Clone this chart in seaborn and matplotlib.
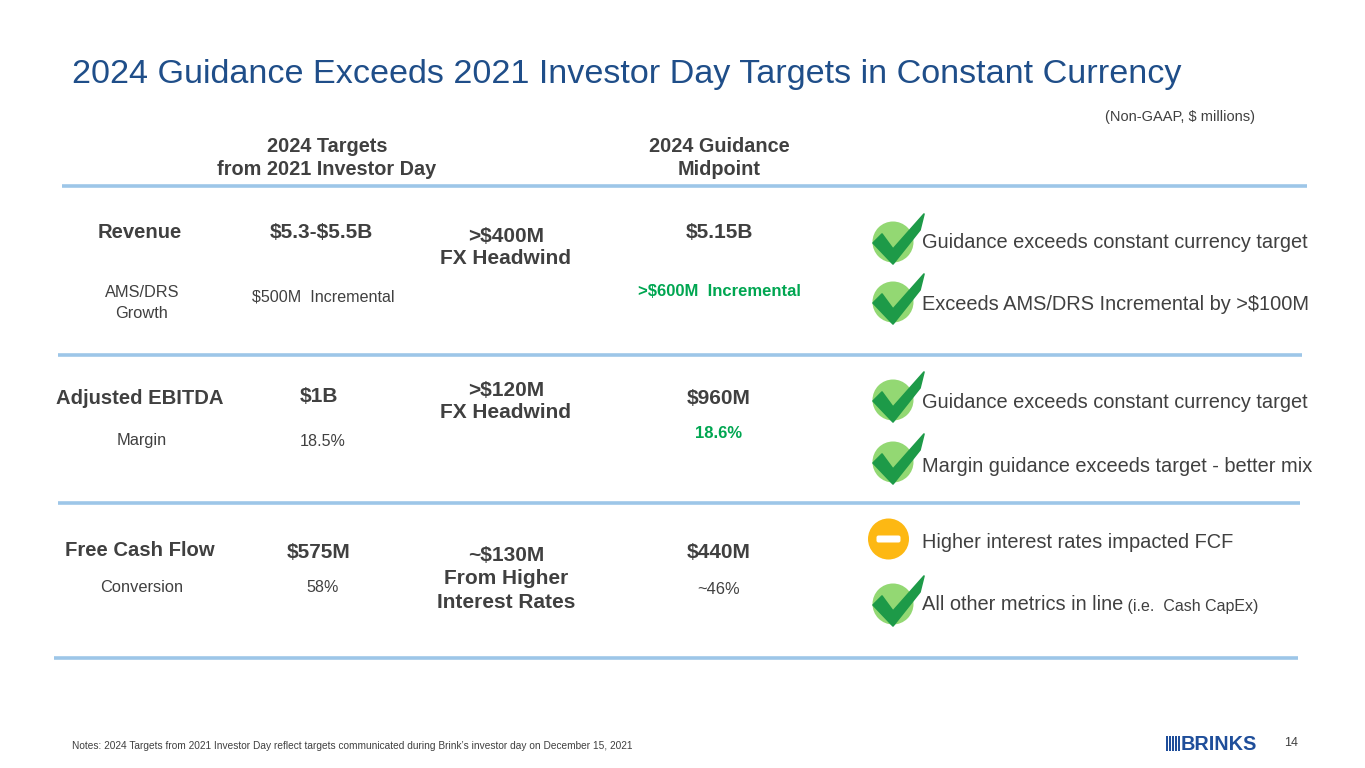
import matplotlib
matplotlib.use("Agg")
import matplotlib.pyplot as plt
import seaborn as sns
import pandas as pd
from matplotlib.patches import Polygon, Circle, FancyBboxPatch, Rectangle

# ---------------- data ----------------
title = "2024 Guidance Exceeds 2021 Investor Day Targets in Constant Currency"
units_note = "(Non-GAAP, $ millions)"
col_headers = ["2024 Targets\nfrom 2021 Investor Day", "2024 Guidance\nMidpoint"]

metrics = ["Revenue", "Adjusted EBITDA", "Free Cash Flow"]
sub_metrics = ["AMS/DRS\nGrowth", "Margin", "Conversion"]
targets = ["$5.3-$5.5B", "$1B", "$575M"]
target_subs = ["$500M  Incremental", "18.5%", "58%"]
impacts = [">$400M\nFX Headwind", ">$120M\nFX Headwind", "~$130M\nFrom Higher\nInterest Rates"]
guidance = ["$5.15B", "$960M", "$440M"]
guidance_subs = [">$600M  Incremental", "18.6%", "~46%"]
guidance_sub_green = [True, True, False]

comments = [
    "Guidance exceeds constant currency target",
    "Exceeds AMS/DRS Incremental by >$100M",
    "Guidance exceeds constant currency target",
    "Margin guidance exceeds target - better mix",
    "Higher interest rates impacted FCF",
    "All other metrics in line",
]
comment_suffix = ["", "", "", "", "", " (i.e.  Cash CapEx)"]
statuses = ["check", "check", "check", "check", "minus", "check"]

notes = "Notes: 2024 Targets from 2021 Investor Day reflect targets communicated during Brink\u2019s investor day on December 15, 2021"
page_no = "14"
logo_text = "BRINKS"

# ---------------- style ----------------
sns.set_theme(style="white")
plt.rcParams["font.family"] = ["Liberation Sans", "DejaVu Sans"]

DARK = "#404040"
BLUE = "#1F4E89"
GREEN_TXT = "#00A651"
LINE = "#9DC6E8"
CHECK_BG = "#93D873"
CHECK_FG = "#1D9A48"
MINUS_BG = "#FDB813"

fig = plt.figure(figsize=(13.65, 7.68), dpi=100)
ax = fig.add_axes([0, 0, 1, 1])
ax.set_xlim(0, 1365)
ax.set_ylim(768, 0)
ax.axis("off")


def txt(x, y, s, **kw):
    kw.setdefault("color", DARK)
    kw.setdefault("va", "center")
    return ax.text(x, y, s, parse_math=False, **kw)


# title
txt(72, 75, title, fontsize=24.6, color=BLUE, ha="left")
txt(1255, 117, units_note, fontsize=10.5, ha="right")

# column headers
txt(327, 158, col_headers[0], fontsize=14.3, fontweight="bold", ha="center", linespacing=1.25)
txt(719, 158, col_headers[1], fontsize=14.3, fontweight="bold", ha="center", linespacing=1.25)

# separator lines
for (x0, x1, y) in [(62, 1307, 186), (58, 1302, 355), (58, 1300, 503), (54, 1298, 658)]:
    ax.plot([x0, x1], [y, y], color=LINE, lw=2.6, solid_capstyle="butt")

# rows
row_main_y = [232, 399, 551]
row_sub_y = [303, 440, 588]
target_y = [232, 396, 552]
target_sub_y = [297, 442, 588]
impact_y = [248, 402, 579]
impact_ls = [1.2, 1.2, 1.3]
guid_y = [232, 398, 552]
guid_sub_y = [292, 434, 590]
target_x = [321, 319, 319]
for i in range(3):
    txt(140, row_main_y[i], metrics[i], fontsize=14.6, fontweight="bold", ha="center")
    txt(142, row_sub_y[i], sub_metrics[i], fontsize=11.8, ha="center", linespacing=1.45)
    txt(target_x[i], target_y[i], targets[i], fontsize=15, fontweight="bold", ha="center")
    txt(323, target_sub_y[i], target_subs[i], fontsize=11.6, ha="center")
    txt(506, impact_y[i], impacts[i], fontsize=15, fontweight="bold", ha="center",
        linespacing=impact_ls[i])
    txt(719, guid_y[i], guidance[i], fontsize=15, fontweight="bold", ha="center")
    if guidance_sub_green[i]:
        txt(719, guid_sub_y[i], guidance_subs[i], fontsize=12, fontweight="bold",
            color=GREEN_TXT, ha="center")
    else:
        txt(719, guid_sub_y[i], guidance_subs[i], fontsize=11.8, ha="center")

# status icons and comments
icon_y = [242, 302, 400, 462, 539, 604]
icon_x = 893
df_icons = pd.DataFrame({"x": [icon_x] * len(statuses), "y": icon_y, "status": statuses})
for _, r in df_icons.iterrows():
    cx, cy = r["x"], r["y"]
    if r["status"] == "check":
        ax.add_patch(Circle((cx, cy), 20.5, facecolor=CHECK_BG, edgecolor="none", zorder=3))
        pts = [(-20, 1), (-11, -8), (0, 7), (31, -28), (27, -12), (0, 22)]
        ax.add_patch(Polygon([(cx + px, cy + py) for px, py in pts], closed=True,
                             facecolor=CHECK_FG, edgecolor=CHECK_FG, lw=1.2,
                             joinstyle="round", zorder=4))
    else:
        mx = cx - 4.5
        ax.add_patch(Circle((mx, cy), 20.5, facecolor=MINUS_BG, edgecolor="none", zorder=3))
        ax.add_patch(FancyBboxPatch((mx - 12, cy - 3.5), 24, 7,
                                    boxstyle="round,pad=0,rounding_size=2",
                                    facecolor="white", edgecolor="none", zorder=4))

comment_y = [242, 304, 402, 466, 543, 604]
for k, c in enumerate(comments):
    t = txt(922, comment_y[k], c, fontsize=14.4, ha="left")
    if comment_suffix[k]:
        ax.annotate(comment_suffix[k], xy=(1, 0), xycoords=t, fontsize=11.5, color=DARK,
                    ha="left", va="bottom", parse_math=False)

# footer
txt(72, 746, notes, fontsize=7.3, ha="left")
txt(1284, 743, page_no, fontsize=9, ha="left")
for b in range(5):
    ax.add_patch(Rectangle((1166 + b * 3.0, 736), 1.8, 15, facecolor="#1F4E9A", edgecolor="none"))
txt(1181, 744, logo_text, fontsize=14.3, fontweight="heavy", color="#1F4E9A", ha="left")

fig.savefig("out.png", dpi=100, facecolor="white")
